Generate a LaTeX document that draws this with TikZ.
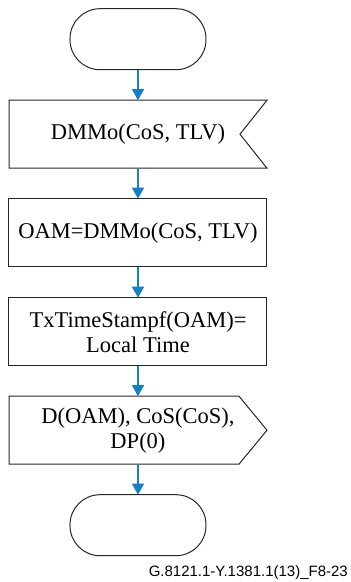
\documentclass[tikz,border=0pt]{standalone}
\usepackage{fontspec}
\setmainfont{Liberation Serif}
\newfontfamily\captionsans{Liberation Sans}
\usepackage{tikz}
\usetikzlibrary{positioning,matrix,arrows.meta}

\definecolor{flowblue}{RGB}{20,128,200}

\begin{document}
\begin{tikzpicture}[
    terminal/.style={rectangle, draw=black!85, line width=1pt, rounded corners=30pt, minimum width=136pt, minimum height=61pt, inner sep=0pt, outer sep=0pt},
    task/.style={rectangle, draw=black!85, line width=1pt, minimum width=258pt, minimum height=68pt, inner sep=0pt, outer sep=0pt, align=center, font=\fontsize{22.5}{25}\selectfont},
    % Signal boxes: outline is drawn by hand below, so the node itself has no border.
    signal/.style={task, draw=none},
    outline/.style={draw=black!85, line width=1pt, line join=miter},
    flow/.style={draw=flowblue, line width=1.5pt, -{Triangle[width=12pt,length=11pt]}}
  ]
    \useasboundingbox (0,0) rectangle (351pt,-582pt);

    %--- One column, equal gaps between the steps ---
    \matrix[matrix of nodes, row sep=30pt, inner sep=0pt, anchor=north] (chart) at (138pt,-8pt) {
      \node[terminal] (start) {}; \\
      \node[signal] (rcvDMM) {DMMo(CoS, TLV)}; \\
      \node[task] (storeOAM) {OAM=DMMo(CoS, TLV)}; \\
      \node[task] (stampTx) {TxTimeStampf(OAM)=\\Local Time}; \\
      \node[signal] (sendOAM) {D(OAM), CoS(CoS),\\DP(0)}; \\
      \node[terminal] (stop) {}; \\
    };

    %--- Outlines of the signal boxes (notch = input, point = output)
    \draw[outline] (rcvDMM.north west) -- (rcvDMM.north east)
      -- ([xshift=-27pt]rcvDMM.east) -- (rcvDMM.south east)
      -- (rcvDMM.south west) -- cycle;
    \draw[outline] (sendOAM.north west) -- ([xshift=-28pt]sendOAM.north east)
      -- (sendOAM.east) -- ([xshift=-28pt]sendOAM.south east)
      -- (sendOAM.south west) -- cycle;

    %--- Flow arrows, top to bottom
    \draw[flow] (start) -- (rcvDMM);
    \draw[flow] (rcvDMM) -- (storeOAM);
    \draw[flow] (storeOAM) -- (stampTx);
    \draw[flow] (stampTx) -- (sendOAM);
    \draw[flow] (sendOAM) -- (stop);

    % figure reference, bottom right
    \node[anchor=base east, inner sep=0pt, font=\captionsans\fontsize{15}{18}\selectfont] (figid) at (348pt,-576pt) {G.8121.1-Y.1381.1(13)\_F8-23};
  \end{tikzpicture}
\end{document}
